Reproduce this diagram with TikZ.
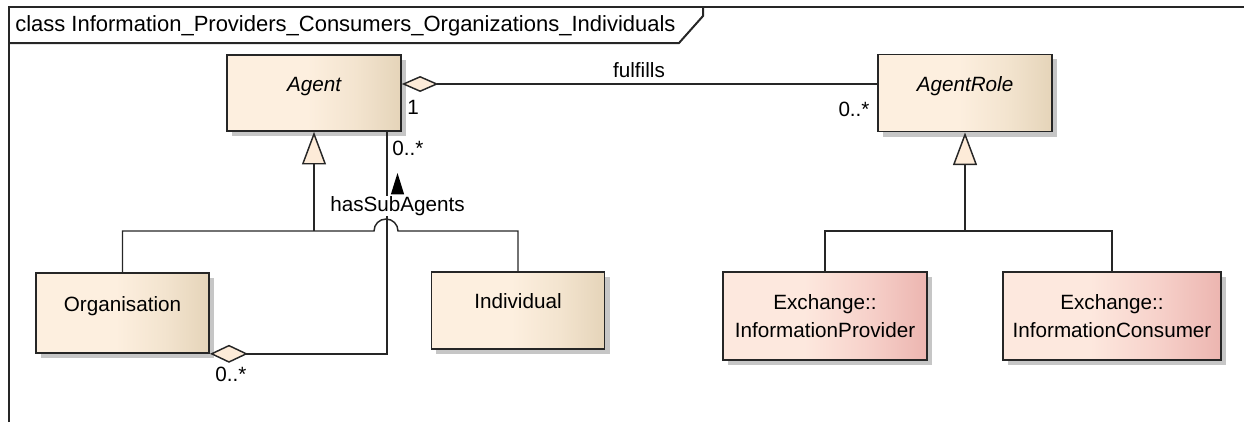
\documentclass[tikz,border=0pt]{standalone}
\usepackage{fontspec}
\setmainfont{Liberation Sans}
\usetikzlibrary{arrows.meta,shadows}
\definecolor{classleft}{HTML}{FDEFDF}
\definecolor{classmid}{HTML}{F3E4CF}
\definecolor{classright}{HTML}{E5D4B9}
\definecolor{extleft}{HTML}{FDE8DE}
\definecolor{extmid}{HTML}{F7D2CB}
\definecolor{extright}{HTML}{ECB5B0}
\definecolor{tipfill}{HTML}{FDEBD8}
\definecolor{shadowgray}{HTML}{C6C6C6}
\definecolor{linegray}{HTML}{262626}
\pgfdeclarehorizontalshading{classshade}{100bp}{color(0bp)=(classleft); color(25bp)=(classleft); color(48bp)=(classleft); color(62bp)=(classmid); color(75bp)=(classright); color(100bp)=(classright)}
\pgfdeclarehorizontalshading{extshade}{100bp}{color(0bp)=(extleft); color(25bp)=(extleft); color(45bp)=(extleft); color(60bp)=(extmid); color(75bp)=(extright); color(100bp)=(extright)}
\begin{document}
\begin{tikzpicture}[x=0.75pt, y=-0.75pt, font=\fontsize{15.5}{21.5}\selectfont,
  box_style/.style={draw=linegray, line width=1.2pt, shade, align=center, inner sep=0pt,
    drop shadow={shadow xshift=3.75pt, shadow yshift=-3.75pt, fill=shadowgray, opacity=1}},
  class_style/.style={box_style, shading=classshade, text height=11pt, text depth=14pt},
  ext_style/.style={box_style, shading=extshade},
  edge_style/.style={draw=linegray, line width=1.1pt},
  gen_style/.style={edge_style, -{Triangle[width=18pt,length=24.5pt,fill=tipfill]}},
  mult_style/.style={inner sep=1pt},
  frame_style/.style={draw=linegray, line width=1.5pt}]
  \useasboundingbox (0,0) rectangle (1244,422);
  % frame
  \draw[frame_style] (9,422) -- (9,7) -- (1244,7);
  \draw[frame_style] (9,43) -- (679,43) -- (703,16) -- (703,7);
  \node[anchor=west, inner sep=0pt, font=\fontsize{16.5}{20}\selectfont] (title) at (15,26)
    {class Information\_Providers\_Consumers\_Organizations\_Individuals};
  % classes
  \draw
    (314, 93) node[class_style, minimum width=130.5pt, minimum height=57pt, font=\fontsize{15.5}{21.5}\selectfont\itshape] (agent){Agent}
    (965, 93) node[class_style, minimum width=130.5pt, minimum height=58pt, font=\fontsize{15.5}{21.5}\selectfont\itshape] (role){AgentRole}
    (122.5, 313) node[class_style, minimum width=130pt, minimum height=60pt] (org){Organisation}
    (518, 310.5) node[class_style, minimum width=130pt, minimum height=58pt] (ind){Individual}
    (825, 316) node[ext_style, minimum width=153pt, minimum height=66pt] (prov){Exchange::\\InformationProvider}
    (1112, 316) node[ext_style, minimum width=163.5pt, minimum height=66pt] (cons){Exchange::\\InformationConsumer};
  % associations
  \draw[edge_style, {Diamond[width=12pt,length=27.5pt,fill=tipfill]}-]
    ([yshift=6.75pt]agent.east) -- ([yshift=6.75pt]role.west);
  \node[mult_style] (fulfills) at (639,70) {fulfills};
  \node[mult_style] (agentone) at (413,107) {1};
  \node[mult_style] (rolemany) at (854,109) {0..*};
  \draw[edge_style, -{Diamond[width=13.5pt,length=28.5pt,fill=tipfill]}]
    ([xshift=54.75pt]agent.south) |- (org.south east);
  \node[mult_style] (agentmany) at (408,148) {0..*};
  \node[mult_style] (orgmany) at (231,374) {0..*};
  \node[fill=white, inner sep=0.5pt] (subagents) at (397.5,206) {hasSubAgents};
  \fill[black] ([xshift=-5pt,yshift=0.8pt]subagents.north) -- ++(5pt,16pt) -- ++(5pt,-16pt) -- cycle;
  % generalizations
  \coordinate (agentjoin) at (agent.south |- 0,231);
  \coordinate (rolejoin) at (role.south |- 0,231);
  \draw[gen_style] (agentjoin) -- (agent.south);
  \draw[edge_style] (org.north) |- (agentjoin) -- (374,231)
    arc[start angle=180, end angle=360, radius=12] -- (ind.north |- agentjoin) -- (ind.north);
  \draw[gen_style] (rolejoin) -- (role.south);
  \draw[edge_style] (prov.north) |- (rolejoin) -| (cons.north);
\end{tikzpicture}
\end{document}
